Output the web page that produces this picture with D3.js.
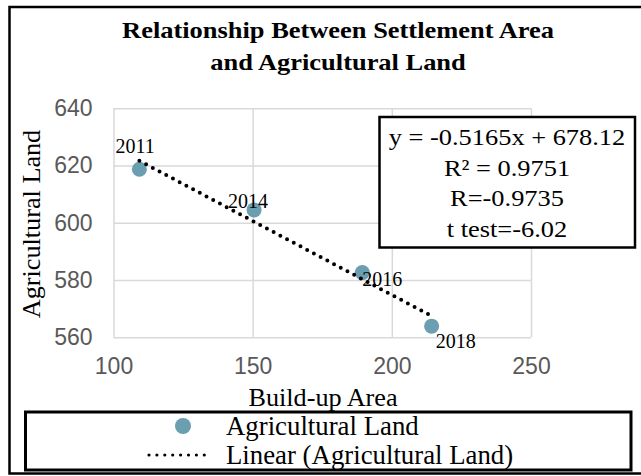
<!DOCTYPE html>
<html>
<head>
<meta charset="utf-8">
<script src="https://cdn.jsdelivr.net/npm/d3@7"></script>
<style>
  body { margin: 0; background: #fff; }
  svg { display: block; }
  .serif { font-family: "Liberation Serif", "Times New Roman", serif; fill: #000; }
  .tick text { font-family: "Liberation Sans", Arial, sans-serif; font-size: 23px; fill: #595959; }
  .tick line { stroke: #d9d9d9; stroke-width: 1.5; }
  .domain { display: none; }
</style>
</head>
<body>
<svg id="chart" width="641" height="476"></svg>
<script>
// data
var years = ["2011", "2014", "2016", "2018"];
var buildUp = [109.3, 150.5, 189.4, 214.3];
var agriLand = [618.7, 604.5, 582.6, 563.9];
var xTicks = [100, 150, 200, 250];
var yTicks = [560, 580, 600, 620, 640];
// trend line printed on the chart
var slope = -0.5165;
var intercept = 678.12;
var statLines = ["y = -0.5165x + 678.12", "R\u00B2 = 0.9751", "R=-0.9735", "t test=-6.02"];
var titleLines = ["Relationship Between Settlement Area", "and Agricultural Land"];
var legendLabels = ["Agricultural Land", "Linear (Agricultural Land)"];

// label offsets (px) relative to each point
var labelDx = [-24, -26, 0, 4];
var labelDy = [-16.6, -2, 13.5, 22];

drawChart();

function drawChart(){
  var svg = d3.select("#chart");
  var pLeft = 113.5, pRight = 531, pTop = 108.3, pBottom = 337.3;

  var x = d3.scaleLinear().domain([100, 250]).range([pLeft, pRight]);
  var y = d3.scaleLinear().domain([560, 640]).range([pBottom, pTop]);

  svg.append("rect").attr("width", 641).attr("height", 476).attr("fill", "#fff");

  // outer frame (right side runs off the picture)
  svg.append("rect")
     .attr("x", 9.5).attr("y", 7)
     .attr("width", 660).attr("height", 466.5)
     .attr("fill", "none").attr("stroke", "#000").attr("stroke-width", 2.5);

  // title, a bit wider than plain Times
  svg.append("g")
     .selectAll("text")
     .data(titleLines)
     .enter().append("text")
     .attr("class", "serif")
     .attr("text-anchor", "middle")
     .attr("font-weight", "bold")
     .attr("font-size", 23)
     .attr("transform", function(d, i){ return "translate(338," + (38 + i * 32) + ") scale(1.15,1)"; })
     .text(function(d){ return d; });

  // grid + axes
  svg.append("g")
     .attr("transform", "translate(0," + pBottom + ")")
     .call(d3.axisBottom(x).tickValues(xTicks).tickSize(-(pBottom - pTop)).tickSizeOuter(0).tickPadding(20));

  svg.append("g")
     .attr("transform", "translate(" + pLeft + ",0)")
     .call(d3.axisLeft(y).tickValues(yTicks).tickSize(-(pRight - pLeft)).tickSizeOuter(0).tickPadding(21));

  // axis titles
  svg.append("text").attr("class", "serif")
     .attr("text-anchor", "middle")
     .attr("font-size", 24.5)
     .attr("transform", "translate(323,406) scale(1.07,1)")
     .text("Build-up Area");

  svg.append("text").attr("class", "serif")
     .attr("text-anchor", "middle")
     .attr("font-size", 24.5)
     .attr("transform", "translate(40,224) rotate(-90) scale(1.07,1)")
     .text("Agricultural Land");

  // points
  var pts = years.map(function(d, i){ return {year: d, x: buildUp[i], y: agriLand[i]}; });

  svg.append("g").selectAll("circle")
     .data(pts)
     .enter().append("circle")
     .attr("cx", function(d){ return x(d.x); })
     .attr("cy", function(d){ return y(d.y); })
     .attr("r", 7.5)
     .attr("fill", "#6b9eb0");

  // linear trend line
  var x0 = d3.min(buildUp), x1 = d3.max(buildUp);
  svg.append("line")
     .attr("x1", x(x0)).attr("y1", y(slope * x0 + intercept))
     .attr("x2", x(x1)).attr("y2", y(slope * x1 + intercept))
     .attr("stroke", "#000")
     .attr("stroke-width", 4)
     .attr("stroke-linecap", "round")
     .attr("stroke-dasharray", "0 7.6");

  // year labels
  svg.append("g").selectAll("text")
     .data(pts)
     .enter().append("text")
     .attr("class", "serif")
     .attr("font-size", 20)
     .attr("x", function(d, i){ return x(d.x) + labelDx[i]; })
     .attr("y", function(d, i){ return y(d.y) + labelDy[i]; })
     .text(function(d){ return d.year; });

  // regression box
  svg.append("rect")
     .attr("x", 379.5).attr("y", 117)
     .attr("width", 255.5).attr("height", 130.5)
     .attr("fill", "#fff").attr("stroke", "#000").attr("stroke-width", 2.5);

  svg.append("g")
     .selectAll("text")
     .data(statLines)
     .enter().append("text")
     .attr("class", "serif")
     .attr("text-anchor", "middle")
     .attr("font-size", 24)
     .attr("transform", function(d, i){ return "translate(507," + (145 + i * 30.5) + ") scale(1.1,1)"; })
     .text(function(d){ return d; });

  // legend
  svg.append("rect")
     .attr("x", 25.5).attr("y", 412)
     .attr("width", 605.5).attr("height", 58)
     .attr("fill", "#fff").attr("stroke", "#000").attr("stroke-width", 3);

  svg.append("circle")
     .attr("cx", 183).attr("cy", 426).attr("r", 8)
     .attr("fill", "#6b9eb0");

  svg.append("line")
     .attr("x1", 149).attr("y1", 455).attr("x2", 212).attr("y2", 455)
     .attr("stroke", "#000").attr("stroke-width", 3.2)
     .attr("stroke-linecap", "round")
     .attr("stroke-dasharray", "0 7.9");

  svg.append("g").selectAll("text")
     .data(legendLabels)
     .enter().append("text")
     .attr("class", "serif")
     .attr("font-size", 26.8)
     .attr("x", 226)
     .attr("y", function(d, i){ return 435 + i * 28.5; })
     .text(function(d){ return d; });
}
</script>
</body>
</html>
